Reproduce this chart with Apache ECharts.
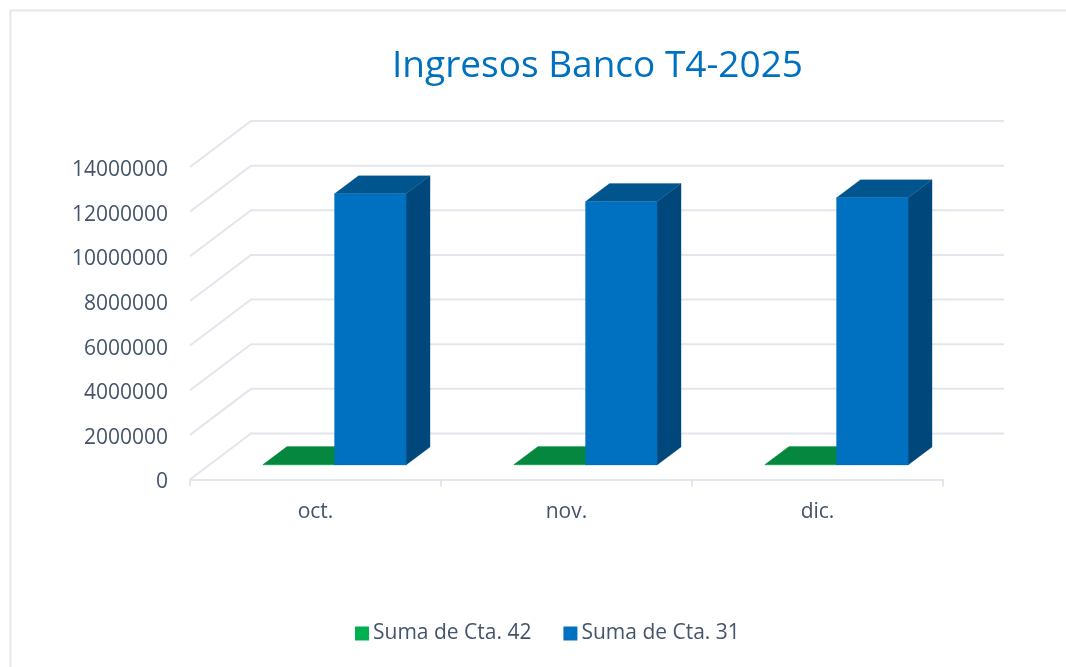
<!DOCTYPE html>
<html>
<head>
<meta charset="utf-8">
<style>html,body{margin:0;padding:0;background:#fff}#c{width:1066px;height:667px}</style>
<script src="https://cdn.jsdelivr.net/npm/echarts@6/dist/echarts.min.js"></script>
</head>
<body>
<div id="c"></div>
<script>
const categories = ['oct.', 'nov.', 'dic.'];
const cta42 = [20000, 25000, 20000];
const cta31 = [12150000, 11800000, 11970000];
const yTicks = [0, 2000000, 4000000, 6000000, 8000000, 10000000, 12000000, 14000000];

const WALL_DX = 61, WALL_DY = 46;      // projection of the floor depth
const BAR_DX0 = 19, BAR_DY0 = 14.5;    // bar front-plane offset
const BAR_DX = 24, BAR_DY = 18;        // bar depth
const BAR_W = 0.285;                   // share of the category band

function barItem(slot, front, top, side) {
  return function (params, api) {
    const p = api.coord([api.value(0), api.value(1)]);
    const base = api.coord([api.value(0), 0]);
    const w = api.size([1, 0])[0] * BAR_W;
    const x0 = p[0] + BAR_DX0 + slot * w, x1 = x0 + w;
    const yb = base[1] - BAR_DY0, yt = p[1] - BAR_DY0;
    const poly = (pts, fill) => ({
      type: 'polygon', shape: { points: pts },
      style: { fill: fill, stroke: fill, lineWidth: 0.3 }
    });
    return {
      type: 'group',
      children: [
        poly([[x1, yb], [x1 + BAR_DX, yb - BAR_DY], [x1 + BAR_DX, yt - BAR_DY], [x1, yt]], side),
        poly([[x0, yt], [x0 + BAR_DX, yt - BAR_DY], [x1 + BAR_DX, yt - BAR_DY], [x1, yt]], top),
        poly([[x0, yb], [x1, yb], [x1, yt], [x0, yt]], front)
      ]
    };
  };
}

function wallItem(params, api) {
  const cs = params.coordSys;
  const y = api.coord([0, api.value(1)])[1];
  return {
    type: 'polyline',
    shape: { points: [[cs.x, y], [cs.x + WALL_DX, y - WALL_DY], [cs.x + cs.width + WALL_DX, y - WALL_DY]] },
    style: { fill: null, stroke: '#E3E6EC', lineWidth: 2 }
  };
}

const font = '"Open Sans", "Noto Sans", sans-serif';
const chart = echarts.init(document.getElementById('c'), null, { renderer: 'canvas' });
chart.setOption({
  animation: false,
  backgroundColor: '#fff',
  title: {
    text: 'Ingresos Banco T4-2025',
    left: 592.5, top: 43, textAlign: 'center',
    textStyle: { color: '#0070C0', fontFamily: font, fontWeight: 'normal', fontSize: 37 }
  },
  legend: {
    data: ['Suma de Cta. 42', 'Suma de Cta. 31'],
    left: 350, top: 618, icon: 'rect', itemWidth: 14, itemHeight: 14, itemGap: 32,
    textStyle: { color: '#44546A', fontFamily: font, fontSize: 21, padding: [0, 0, 0, -1] }
  },
  grid: { left: 190, right: 123, top: 167, bottom: 187.5, containLabel: false },
  xAxis: {
    type: 'category', data: categories,
    axisLine: { lineStyle: { color: '#E3E6EC', width: 2 } },
    axisTick: { show: true, length: 7, alignWithLabel: false, lineStyle: { color: '#E3E6EC', width: 2 } },
    axisLabel: { color: '#44546A', fontFamily: font, fontSize: 21, margin: 22 }
  },
  yAxis: {
    type: 'value', min: 0, max: 14000000, interval: 2000000,
    axisLine: { show: false }, axisTick: { show: false }, splitLine: { show: false },
    axisLabel: { color: '#44546A', fontFamily: font, fontSize: 21, margin: 22, verticalAlign: 'top', lineHeight: 6, formatter: v => String(v) }
  },
  series: [
    { type: 'custom', name: 'pared', silent: true, z: 1, renderItem: wallItem,
      data: yTicks.map(v => [0, v]), encode: { x: 0, y: 1 } },
    { type: 'custom', name: 'Suma de Cta. 42', z: 3, itemStyle: { color: '#00B050' },
      renderItem: barItem(-1, '#00A04A', '#05873F', '#04703A'),
      data: cta42.map((v, i) => [i, v]), encode: { x: 0, y: 1 } },
    { type: 'custom', name: 'Suma de Cta. 31', z: 4, itemStyle: { color: '#0070C0' },
      renderItem: barItem(0, '#0070C0', '#00558F', '#00487C'),
      data: cta31.map((v, i) => [i, v]), encode: { x: 0, y: 1 } }
  ],
  graphic: [{
    type: 'polyline', silent: true, z: 0,
    shape: { points: [[10.5, 667], [10.5, 10.5], [1066, 10.5]] },
    style: { fill: null, stroke: '#E3E7EF', lineWidth: 2 }
  }]
});
</script>
</body>
</html>
